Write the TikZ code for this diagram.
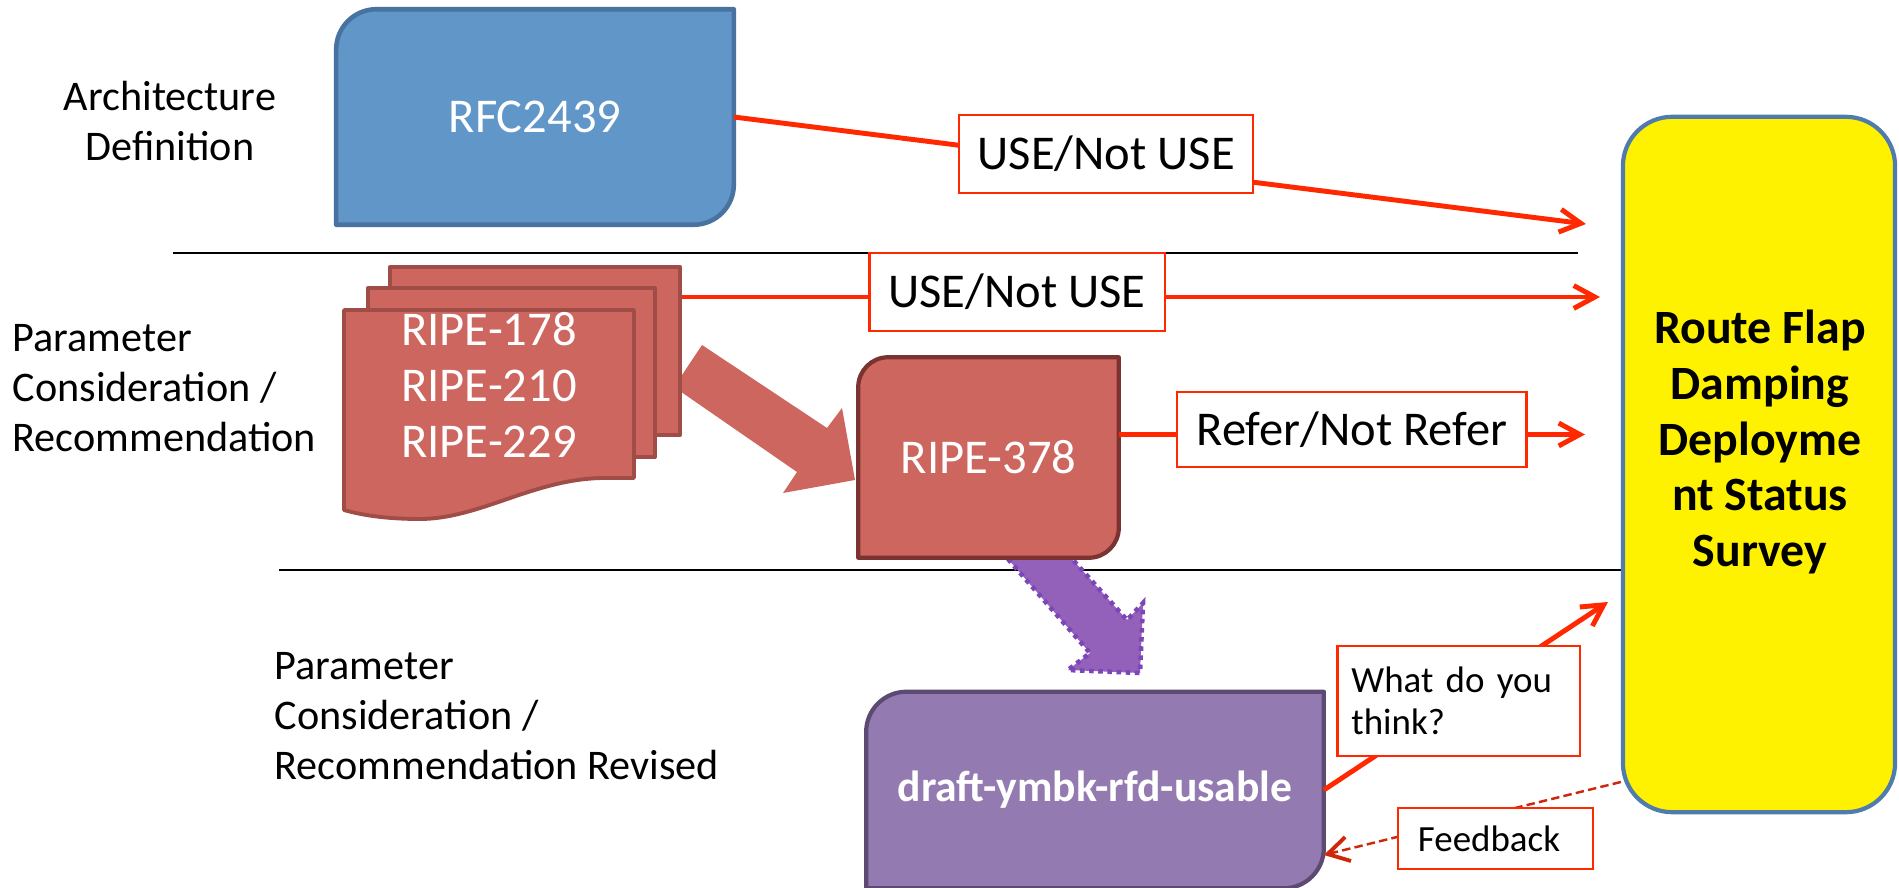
\documentclass[tikz,border=0pt]{standalone}
\usepackage{fontspec}
\setmainfont{Carlito}
\usetikzlibrary{arrows.meta,calc,backgrounds}

\definecolor{rfcblue}{RGB}{97,150,201}
\definecolor{rfcedge}{RGB}{72,114,160}
\definecolor{ripered}{RGB}{205,102,95}
\definecolor{ripeedge}{RGB}{160,76,71}
\definecolor{ripedark}{RGB}{122,51,48}
\definecolor{draftfill}{RGB}{147,123,177}
\definecolor{draftedge}{RGB}{92,74,114}
\definecolor{blockviolet}{RGB}{148,97,186}
\definecolor{blockvioletedge}{RGB}{124,70,184}
\definecolor{surveyedge}{RGB}{79,124,172}
\definecolor{usered}{RGB}{255,40,0}
\definecolor{fbred}{RGB}{205,40,10}

\tikzset{
    boxtext/.style={text=white, inner sep=0pt, font=\fontsize{13.8}{16}\selectfont},
    sidetext/.style={inner sep=0pt, font=\fontsize{12}{14.2}\selectfont},
    labelbox/.style={draw=usered, line width=.6pt, fill=white, text=black, inner sep=0pt,
        font=\fontsize{13.8}{16}\selectfont},
    notebox/.style={draw=usered, line width=.6pt, fill=white, text=black, inner ysep=0pt,
        inner xsep=0.2cm, align=left, font=\fontsize{10.5}{12}\selectfont},
    uselink/.style={usered, line width=1.4pt, -{Straight Barb[length=6pt,width=6.5pt]}},
    fblink/.style={fbred, line width=.7pt, dash pattern=on 2.4pt off 1.2pt,
        -{Straight Barb[length=6pt,width=7pt,line width=1.1pt]}},
    page/.style={fill=ripered, draw=ripeedge, line width=1.1pt, line join=round, inner sep=0pt},
}

% box with rounded top left and bottom right corners, drawn round a node
\newcommand{\tabbox}[3]{%
    \draw[#3] (#1.south west) -- ([yshift=-#2]#1.north west)
        .. controls ([yshift=-0.45*#2]#1.north west) and ([xshift=0.45*#2]#1.north west) .. ([xshift=#2]#1.north west)
        -- (#1.north east) -- ([yshift=#2]#1.south east)
        .. controls ([yshift=0.45*#2]#1.south east) and ([xshift=-0.45*#2]#1.south east) .. ([xshift=-#2]#1.south east)
        -- cycle;}

\begin{document}
\begin{tikzpicture}[x=0.01cm, y=-0.01cm]

    \useasboundingbox (0,0) rectangle (1899,888);

    % Row labels.
    \node[sidetext, align=center] (archlabel) at (170,121) {Architecture\\Definition};
    \node[sidetext, align=left, anchor=west] (paramlabel) at (12,388) {Parameter\\Consideration /\\Recommendation};
    \node[sidetext, align=left, anchor=west] (revlabel) at (274,716) {Parameter\\Consideration /\\Recommendation Revised};

    % Documents.
    \node[boxtext, minimum width=3.96cm, minimum height=2.14cm] (rfc) at (535,117) {RFC2439};
    \node[boxtext, align=center, font=\fontsize{13.8}{15.9}\selectfont] (ripe) at (489,385) {RIPE-178\\RIPE-210\\RIPE-229};
    \node[boxtext, minimum width=2.59cm, minimum height=1.99cm] (r378) at (988.5,457.5) {RIPE-378};
    \node[boxtext, minimum width=4.56cm, minimum height=1.95cm, font=\bfseries\fontsize{12.4}{14}\selectfont] (draft) at (1095,790) {draft-ymbk-rfd-usable};

    % Survey.
    \node[draw=surveyedge, fill=yellow, line width=1.2pt, rounded corners=14pt, inner sep=0pt,
        minimum width=2.72cm, minimum height=6.95cm] (survey) at (1759,464.5) {};
    \node[align=center, inner sep=0pt, font=\bfseries\fontsize{13.6}{15.9}\selectfont] (surveytext) at (1760,442)
        {Route Flap\\Damping\\Deployme\\nt Status\\Survey};

    \begin{pgfonlayer}{background}
        % Separators.
        \draw[line width=.6pt] (173,253) -- (1578,253);
        \draw[line width=.6pt] (279,570) -- (1623,570);

        % Block arrows.
        \fill[ripered] (702,345) -- (827,428) -- (842,408) -- (855,480) -- (783,493) -- (797,472) -- (674,387) -- cycle;
        \filldraw[fill=blockviolet, draw=blockvioletedge, line width=1.3pt, dash pattern=on 1.3pt off 1.3pt]
            (1037,520) -- (1127,620) -- (1143,603) -- (1140,673) -- (1068,670) -- (1090,653) -- (1001,551) -- cycle;

        % Pages behind the front page.
        \node[page, minimum width=2.90cm, minimum height=1.68cm] (ripeback) at (535,351) {};
        \node[page, minimum width=2.87cm, minimum height=1.69cm] (ripemid) at (511.5,372.5) {};
        \draw[page] (344,310) -- (634,310) -- (634,478) -- (605,478)
            .. controls (535,478) and (480,519) .. (420,519)
            .. controls (390,519) and (365,516) .. (344,510) -- cycle;

        \tabbox{rfc}{11.4pt}{fill=rfcblue, draw=rfcedge, line width=1.3pt, line join=round}
        \tabbox{r378}{8.5pt}{fill=ripered, draw=ripedark, line width=1.2pt, line join=round}
        \tabbox{draft}{11.4pt}{fill=draftfill, draw=draftedge, line width=1.2pt, line join=round}
    \end{pgfonlayer}

    % Free ends of the links.
    \coordinate (rfcend) at (1586,224);
    \coordinate (ripeend) at (1600,297);
    \coordinate (r378end) at (1585,434.5);
    \coordinate (askend) at (1608,602);

    % Links to the survey.
    \draw[uselink] (rfc.east) -- node[labelbox, pos=.437, yshift=2.8pt, minimum width=2.94cm, minimum height=.78cm]
        (use1) {USE/Not USE} (rfcend);
    \draw[uselink] ($(ripeback.east)+(0,-54)$) -- node[labelbox, pos=.365, yshift=1.4pt, minimum width=2.95cm, minimum height=.78cm]
        (use2) {USE/Not USE} (ripeend);
    \draw[uselink] ($(r378.east)+(0,-23)$) -- node[labelbox, pos=.5, yshift=1.4pt, minimum width=3.49cm, minimum height=.75cm]
        (refer) {Refer/Not Refer} (r378end);
    \draw[uselink] (draft.east) -- node[notebox, pos=.474, inner xsep=0.14cm, text width=2.14cm, minimum height=1.1cm]
        (ask) {What do you\\think?} (askend);

    % Feedback.
    \draw[fblink] ($(survey.west)+(0,317.5)$) -- ($(draft.east)+(0,65)$);
    \node[notebox, text width=1.55cm, minimum height=.61cm] (feedback) at (1495.5,838.5) {Feedback};

\end{tikzpicture}
\end{document}
